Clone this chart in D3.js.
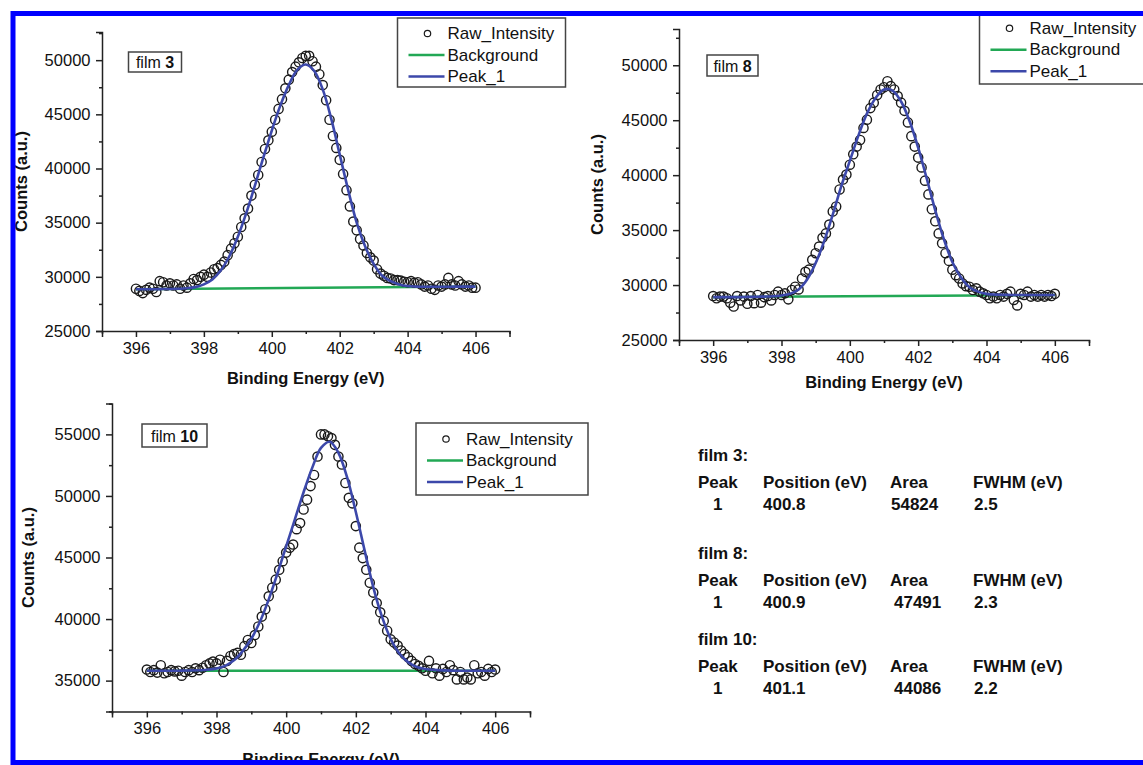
<!DOCTYPE html>
<html>
<head>
<meta charset="utf-8">
<script src="https://cdn.jsdelivr.net/npm/d3@7"></script>
<style>
  body { margin: 0; background: #fff; }
  svg { display: block; font-family: "Liberation Sans", Arial, sans-serif; }
</style>
</head>
<body>
<div id="chart"></div>
<script>
// measured energies (eV), raw data step 0.1
const rawEnergy = [
  396.0, 396.1, 396.2, 396.3, 396.4, 396.5, 396.6, 396.7, 396.8, 396.9,
  397.0, 397.1, 397.2, 397.3, 397.4, 397.5, 397.6, 397.7, 397.8, 397.9,
  398.0, 398.1, 398.2, 398.3, 398.4, 398.5, 398.6, 398.7, 398.8, 398.9,
  399.0, 399.1, 399.2, 399.3, 399.4, 399.5, 399.6, 399.7, 399.8, 399.9,
  400.0, 400.1, 400.2, 400.3, 400.4, 400.5, 400.6, 400.7, 400.8, 400.9,
  401.0, 401.1, 401.2, 401.3, 401.4, 401.5, 401.6, 401.7, 401.8, 401.9,
  402.0, 402.1, 402.2, 402.3, 402.4, 402.5, 402.6, 402.7, 402.8, 402.9,
  403.0, 403.1, 403.2, 403.3, 403.4, 403.5, 403.6, 403.7, 403.8, 403.9,
  404.0, 404.1, 404.2, 404.3, 404.4, 404.5, 404.6, 404.7, 404.8, 404.9,
  405.0, 405.1, 405.2, 405.3, 405.4, 405.5, 405.6, 405.7, 405.8, 405.9,
  406.0
];

// fitted curve sampled every 0.25 eV
const fitEnergy = [
  396.0, 396.25, 396.5, 396.75, 397.0, 397.25, 397.5, 397.75,
  398.0, 398.25, 398.5, 398.75, 399.0, 399.25, 399.5, 399.75,
  400.0, 400.25, 400.5, 400.75, 401.0, 401.25, 401.5, 401.75,
  402.0, 402.25, 402.5, 402.75, 403.0, 403.25, 403.5, 403.75,
  404.0, 404.25, 404.5, 404.75, 405.0, 405.25, 405.5, 405.75, 406.0
];

const bgEnergy = [396, 406];

// film 3
const film3Raw = [
  28900, 28700, 28500, 28800, 29000, 28900, 28600, 29600, 29500, 29200,
  29400, 29200, 29300, 28900, 29200, 29000, 29400, 29800, 29700, 30000,
  30200, 30000, 30400, 30700, 30800, 31100, 31400, 32000, 32600, 33100,
  33700, 34600, 35400, 36300, 37500, 38500, 39400, 40600, 41800, 42600,
  43400, 44500, 45500, 46400, 47400, 48200, 48900, 49400, 49800, 50200,
  50400, 50400, 49900, 49400, 48700, 47700, 46300, 44500, 43000, 41900,
  40800, 39500, 38000, 36500, 35100, 34300, 33500, 32900, 32200, 31800,
  31500, 30700, 30300, 30100, 29900, 29850, 29700, 29700, 29650, 29550,
  29500, 29600, 29450, 29500, 29300, 29100, 29200, 28900, 28800, 29200,
  29100, 29300, 29900, 29300, 29200, 29600, 29300, 29100, 29200, 29000,
  29000
];
const film3Fit = [
  28850, 28850, 28860, 28870, 28880, 28900, 28940, 29050,
  29300, 29750, 30600, 31900, 33700, 35900, 38400, 41000,
  43500, 45800, 47700, 49100, 49600, 49000, 47300, 44600,
  41300, 38000, 35000, 32800, 31200, 30100, 29600, 29300,
  29150, 29100, 29080, 29080, 29090, 29090, 29100, 29100, 29100
];
const film3Bg = [28850, 29100];

// film 8
const film8Raw = [
  29000, 28800, 28950, 28950, 28800, 28400, 28050, 29000, 28600, 28950,
  28300, 29000, 28350, 29100, 28400, 28900, 29000, 28600, 29100, 29400,
  29100, 29250, 28700, 29550, 29850, 29600, 30600, 31200, 31400, 32300,
  32900, 33500, 34300, 34700, 35500, 36700, 37150, 38700, 39600, 40050,
  40950, 41900, 42600, 43200, 44300, 45050, 46100, 46600, 47300, 47800,
  48000, 48550, 48100, 47800, 47200, 46600, 45850, 44800, 43550, 42600,
  41600, 40700, 39500, 38250, 36900, 35800, 34700, 33800, 32900, 32200,
  31400, 30900, 30600, 30150, 29900, 29850, 29550, 29700, 29400, 29250,
  29100, 28800, 28950, 28800, 29100, 28950, 29200, 29400, 28650, 28150,
  29200, 29100, 29400, 28950, 29100, 28950, 29100, 28950, 29100, 29000,
  29200
];
const film8Fit = [
  28900, 28900, 28900, 28900, 28920, 28930, 28950, 28980,
  29050, 29200, 29600, 30500, 32000, 34000, 36400, 39000,
  41300, 43600, 45600, 47000, 47800, 47700, 46700, 44900,
  42500, 39700, 36800, 34200, 32100, 30700, 29800, 29400,
  29200, 29130, 29110, 29100, 29100, 29100, 29100, 29100, 29100
];
const film8Bg = [28900, 29100];

// film 10
const film10Raw = [
  35900, 35700, 35850, 35650, 36250, 35600, 35700, 35850, 35750, 35800,
  35400, 35700, 35850, 35700, 36000, 35850, 36050, 36250, 36400, 36550,
  36400, 36700, 35700, 36600, 37000, 37150, 37250, 37100, 37800, 38300,
  38050, 38700, 39400, 40200, 40800, 41850, 42550, 43200, 44000, 44700,
  45400, 45800, 46050, 47300, 47800, 48900, 49700, 50800, 51700, 53200,
  55000, 55000, 54850, 54700, 54150, 53200, 52550, 51050, 49850, 49400,
  47550, 45800, 44950, 44000, 42950, 42150, 41300, 40550, 39850, 39050,
  38350, 38100, 37850, 37450, 37150, 36900, 36600, 36350, 36200, 36000,
  35800, 36600, 35600, 36000, 35400, 35950, 35700, 36250, 35850, 35100,
  35700, 35100, 35250, 35100, 36250, 35600, 35700, 35400, 35950, 35700,
  35900
];
const film10Fit = [
  35800, 35800, 35800, 35800, 35810, 35820, 35840, 35880,
  35980, 36200, 36650, 37400, 38400, 39800, 41600, 43700,
  45900, 48100, 50300, 52300, 53900, 54400, 53500, 51500,
  48700, 45600, 42600, 40200, 38400, 37200, 36500, 36100,
  35950, 35870, 35830, 35810, 35800, 35800, 35800, 35800, 35800
];
const film10Bg = [35800, 35800];

// ticks
const xMajorTicks = [396, 398, 400, 402, 404, 406];
const xMinorTicks = [395, 397, 399, 401, 403, 405, 407];
const yMajorTicksA = [25000, 30000, 35000, 40000, 45000, 50000];
const yMinorTicksA = [27500, 32500, 37500, 42500, 47500, 52500];
const yMajorTicksB = [35000, 40000, 45000, 50000, 55000];
const yMinorTicksB = [32500, 37500, 42500, 47500, 52500, 57500];

const legendLabels = ["Raw_Intensity", "Background", "Peak_1"];

// summary table
const tableFilms = ["film 3:", "film 8:", "film 10:"];
const tableHeader = ["Peak", "Position (eV)", "Area", "FWHM (eV)"];
const tablePeak = ["1", "1", "1"];
const tablePosition = ["400.8", "400.9", "401.1"];
const tableArea = ["54824", "47491", "44086"];
const tableFwhm = ["2.5", "2.3", "2.2"];

const W = 1143, H = 765;
const blue = "#3c48aa", green = "#22a855", ink = "#1a1a1a";

const svg = d3.select("#chart").append("svg")
  .attr("width", W).attr("height", H);

svg.append("rect").attr("width", W).attr("height", H).attr("fill", "#fff");

function drawPanel(p) {
  const x = d3.scaleLinear().domain([395, 407]).range([p.x0, p.x1]);
  const y = d3.scaleLinear().domain(p.yDomain).range([p.yBot, p.yTop]);
  const g = svg.append("g");

  // background line
  g.append("path")
    .attr("d", d3.line().x((d, i) => x(bgEnergy[i])).y(d => y(d))(p.bg))
    .attr("fill", "none").attr("stroke", green).attr("stroke-width", 2.5);

  // raw data circles
  g.selectAll(null)
    .data(p.raw)
    .enter().append("circle")
    .attr("cx", (d, i) => x(rawEnergy[i]))
    .attr("cy", d => y(d))
    .attr("r", 4.6)
    .attr("fill", "none")
    .attr("stroke", ink)
    .attr("stroke-width", 1.4);

  // fitted peak
  g.append("path")
    .attr("d", d3.line().curve(d3.curveCatmullRom)
      .x((d, i) => x(fitEnergy[i])).y(d => y(d))(p.fit))
    .attr("fill", "none").attr("stroke", blue).attr("stroke-width", 2.6);

  // axes
  g.append("g").attr("transform", `translate(0,${p.yBot})`)
    .call(d3.axisBottom(x).tickValues(xMajorTicks).tickSize(6).tickPadding(5)
      .tickFormat(d3.format("d")));
  g.append("g").attr("transform", `translate(0,${p.yBot})`)
    .call(d3.axisBottom(x).tickValues(xMinorTicks).tickSize(3).tickFormat(""))
    .select(".domain").remove();
  g.append("g").attr("transform", `translate(${p.x0},0)`)
    .call(d3.axisLeft(y).tickValues(p.yMajor).tickSize(6).tickPadding(5.5)
      .tickFormat(d3.format("d")));
  g.append("g").attr("transform", `translate(${p.x0},0)`)
    .call(d3.axisLeft(y).tickValues(p.yMinor).tickSize(3).tickFormat(""))
    .select(".domain").remove();

  g.selectAll(".domain, .tick line").attr("stroke", "#222").attr("stroke-width", 1.5);
  g.selectAll(".tick text").attr("fill", "#111").style("font-size", "16.5px")
    .style("font-family", '"Liberation Sans", Arial, sans-serif');

  // axis titles
  g.append("text")
    .attr("x", (p.x0 + p.x1) / 2).attr("y", p.xLabelY)
    .attr("text-anchor", "middle").attr("dominant-baseline", "central")
    .style("font-size", "16.5px").style("font-weight", "bold").attr("fill", "#111")
    .text("Binding Energy (eV)");
  g.append("text")
    .attr("transform", `translate(${p.yLabelX},${(p.yTop + p.yBot) / 2}) rotate(-90)`)
    .attr("text-anchor", "middle").attr("dominant-baseline", "central")
    .style("font-size", "16.5px").style("font-weight", "bold").attr("fill", "#111")
    .text("Counts (a.u.)");

  // film tag
  const fb = p.filmBox;
  g.append("rect").attr("x", fb.x).attr("y", fb.y).attr("width", fb.w).attr("height", fb.h)
    .attr("fill", "#fff").attr("stroke", "#444").attr("stroke-width", 1.5);
  const ft = g.append("text")
    .attr("x", fb.x + fb.w / 2).attr("y", fb.y + fb.h / 2)
    .attr("text-anchor", "middle").attr("dominant-baseline", "central")
    .style("font-size", "16px").attr("fill", "#111");
  ft.append("tspan").text("film ");
  ft.append("tspan").style("font-weight", "bold").text(p.film);

  // legend
  const lg = p.legend;
  g.append("rect").attr("x", lg.x).attr("y", lg.y).attr("width", lg.w).attr("height", lg.h)
    .attr("fill", "#fff").attr("stroke", "#444").attr("stroke-width", 1.5);
  legendLabels.forEach((label, i) => {
    const ry = lg.y + lg.row0 + i * 21.5;
    if (i === 0) {
      g.append("circle").attr("cx", lg.x + 30).attr("cy", ry).attr("r", 3.2)
        .attr("fill", "none").attr("stroke", ink).attr("stroke-width", 1.2);
    } else {
      g.append("line").attr("x1", lg.x + 11).attr("x2", lg.x + 47)
        .attr("y1", ry).attr("y2", ry)
        .attr("stroke", i === 1 ? green : blue).attr("stroke-width", 2.5);
    }
    g.append("text").attr("x", lg.x + 50).attr("y", ry)
      .attr("dominant-baseline", "central")
      .style("font-size", "17px").attr("fill", "#111")
      .text(label);
  });
}

drawPanel({
  film: "3", raw: film3Raw, fit: film3Fit, bg: film3Bg,
  x0: 102, x1: 509.5, yTop: 32, yBot: 331, yDomain: [25000, 52600],
  yMajor: yMajorTicksA, yMinor: yMinorTicksA,
  xLabelY: 378, yLabelX: 21,
  filmBox: { x: 128.5, y: 52, w: 53, h: 20 },
  legend: { x: 397.5, y: 18, w: 168, h: 69, row0: 15.5 }
});

drawPanel({
  film: "8", raw: film8Raw, fit: film8Fit, bg: film8Bg,
  x0: 679, x1: 1089, yTop: 29, yBot: 340, yDomain: [25000, 53300],
  yMajor: yMajorTicksA, yMinor: yMinorTicksA,
  xLabelY: 382, yLabelX: 597,
  filmBox: { x: 707, y: 55, w: 51, h: 21 },
  legend: { x: 979.5, y: 12.5, w: 200, h: 71.5, row0: 15.8 }
});

drawPanel({
  film: "10", raw: film10Raw, fit: film10Fit, bg: film10Bg,
  x0: 112, x1: 530, yTop: 403.6, yBot: 711.4, yDomain: [32500, 57500],
  yMajor: yMajorTicksB, yMinor: yMinorTicksB,
  xLabelY: 759, yLabelX: 28,
  filmBox: { x: 142, y: 424, w: 65, h: 23 },
  legend: { x: 416, y: 423, w: 172, h: 72, row0: 16 }
});

// peak summary table
const colX = [698, 763, 890, 973];
const blockY = [455, 553, 639];
const tbl = svg.append("g")
  .style("font-size", "17px").style("font-weight", "bold").attr("fill", "#111");
tableFilms.forEach((name, i) => {
  const y0 = blockY[i];
  tbl.append("text").attr("x", colX[0]).attr("y", y0)
    .attr("dominant-baseline", "central").text(name);
  tableHeader.forEach((h, j) => {
    tbl.append("text").attr("x", colX[j]).attr("y", y0 + 27)
      .attr("dominant-baseline", "central").text(h);
  });
  const vals = [tablePeak[i], tablePosition[i], tableArea[i], tableFwhm[i]];
  const valX = [713, 763, i === 0 ? 891 : 894, 974];
  vals.forEach((v, j) => {
    tbl.append("text").attr("x", valX[j]).attr("y", y0 + 49)
      .attr("dominant-baseline", "central").text(v);
  });
});

// blue frame of the figure
svg.append("rect")
  .attr("x", 13).attr("y", 13.5).attr("width", W + 20).attr("height", 749)
  .attr("fill", "none").attr("stroke", "#0000ff").attr("stroke-width", 5);
</script>
</body>
</html>
